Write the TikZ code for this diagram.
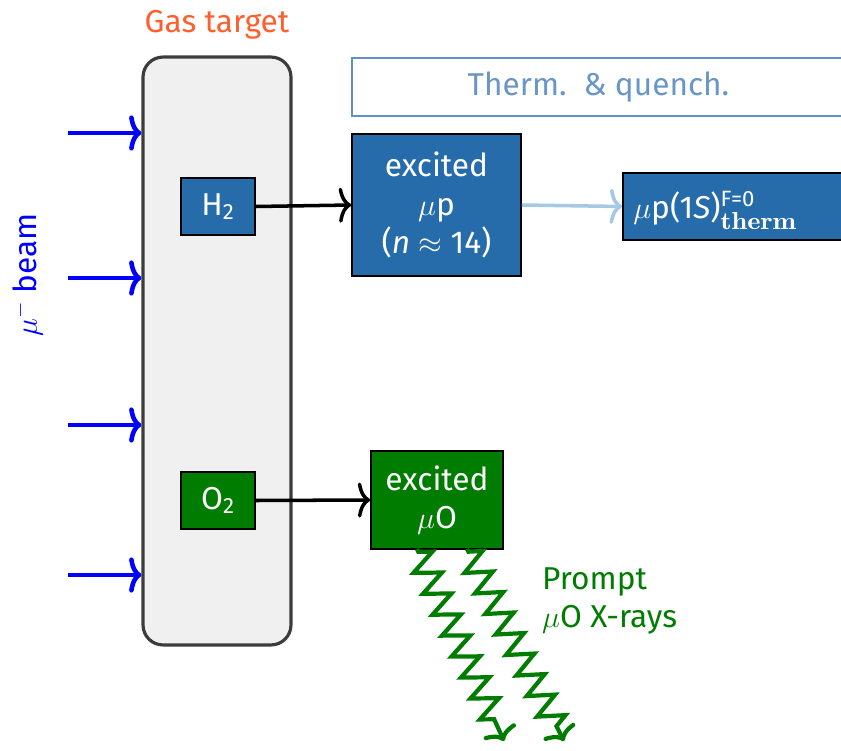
\documentclass[tikz,border=0pt]{standalone}
\usepackage{amsmath}
\usepackage{graphicx}
\usepackage[no-math]{fontspec}
\setmainfont{Fira Sans}
\usetikzlibrary{decorations.pathmorphing,arrows.meta}
\definecolor{boxblue}{RGB}{38,108,170}
\definecolor{boxgreen}{RGB}{0,125,0}
\definecolor{lightarr}{RGB}{165,200,228}
\definecolor{thermtxt}{RGB}{105,150,198}
\definecolor{thermborder}{RGB}{95,145,195}
\definecolor{gasorange}{RGB}{255,95,45}
\definecolor{beamblue}{RGB}{0,0,255}
\definecolor{targetfill}{RGB}{240,240,240}
\definecolor{targetdraw}{RGB}{60,60,60}
\tikzset{
  every node/.style={font=\fontsize{18}{22}\selectfont},
  gbox/.style={draw=black, line width=1pt, inner sep=0pt, text=white, align=center},
  bluebox/.style={gbox, fill=boxblue},
  greenbox/.style={gbox, fill=boxgreen},
  bigtip/.style={-{To[length=7pt,width=20pt]}},
  beamarrow/.style={draw=beamblue, line width=2.6pt, bigtip},
  blackarrow/.style={draw=black, line width=2pt, bigtip},
  lightarrow/.style={draw=lightarr, line width=2pt, bigtip},
  xray/.style={draw=boxgreen, line width=2.4pt, bigtip,
    decorate, decoration={zigzag, segment length=0.46cm, amplitude=0.26cm, pre length=0.06cm, post length=0.3cm}},
}
\begin{document}
\begin{tikzpicture}[x=0.02cm,y=-0.02cm]
\useasboundingbox (0,0) rectangle (841,750);
\clip (0,0) rectangle (841,750);
% gas target
\node[draw=targetdraw, fill=targetfill, line width=1.8pt, rounded corners=0.4cm,
      minimum width=2.96cm, minimum height=11.76cm, inner sep=0pt] (gas) at (217,351) {};
\node[text=gasorange, anchor=base] (gaslbl) at (217,33) {Gas target};
% beam
\node[text=beamblue, rotate=90] (beamlbl) at (28,275) {$\mu^-$ beam};
\coordinate (b1) at (68,133);
\coordinate (b2) at (68,278);
\coordinate (b3) at (68,425);
\coordinate (b4) at (68,575);
\draw[beamarrow] (b1) -- (b1 -| gas.west);
\draw[beamarrow] (b2) -- (b2 -| gas.west);
\draw[beamarrow] (b3) -- (b3 -| gas.west);
\draw[beamarrow] (b4) -- (b4 -| gas.west);
% H2 branch
\node[bluebox, minimum width=1.48cm, minimum height=1.14cm] (h2) at (218,206.5) {H$_{\text{2}}$};
\node[bluebox, minimum width=3.38cm, minimum height=2.84cm] (mup) at (436.5,205)
  {excited\\$\mu$p\\(\textit{n} $\approx$ 14)};
\node[bluebox, minimum width=4.8cm, minimum height=1.34cm, anchor=west] (mu1s) at (622,206.5) {};
\node[text=white, anchor=base west, inner sep=0pt] (mu1stxt) at (633,218)
  {$\mu$p(1\textit{S})$^{\text{F=0}}_{\mbox{\scalebox{1.15}[1]{\fontsize{14}{14}\fontfamily{lmr}\bfseries\selectfont therm}}}$};
\node[draw=thermborder, line width=1pt, fill=white, text=thermtxt,
      minimum width=9.86cm, minimum height=1.16cm, inner sep=0pt] (therm) at (598.5,87) {Therm.\ \ \& quench.};
\draw[blackarrow] (h2.east) -- (mup.west);
\draw[lightarrow] (mup.east) -- (mu1s.west);
% O2 branch
\node[greenbox, minimum width=1.48cm, minimum height=1.14cm] (o2) at (218,500.5) {O$_{\text{2}}$};
\node[greenbox, minimum width=2.64cm, minimum height=1.96cm] (muo) at (437,500)
  {excited\\$\mu$O};
\draw[blackarrow] (o2.east) -- (muo.west);
\coordinate (x1s) at (417,549);
\coordinate (x1e) at (504,741);
\coordinate (x2s) at (467,549);
\coordinate (x2e) at (564,741);
\draw[xray] (x1s) -- (x1e);
\draw[xray] (x2s) -- (x2e);
\node[text=boxgreen, align=left, anchor=north west] (xlbl) at (536,561) {Prompt\\$\mu$O X-rays};
\end{tikzpicture}
\end{document}
